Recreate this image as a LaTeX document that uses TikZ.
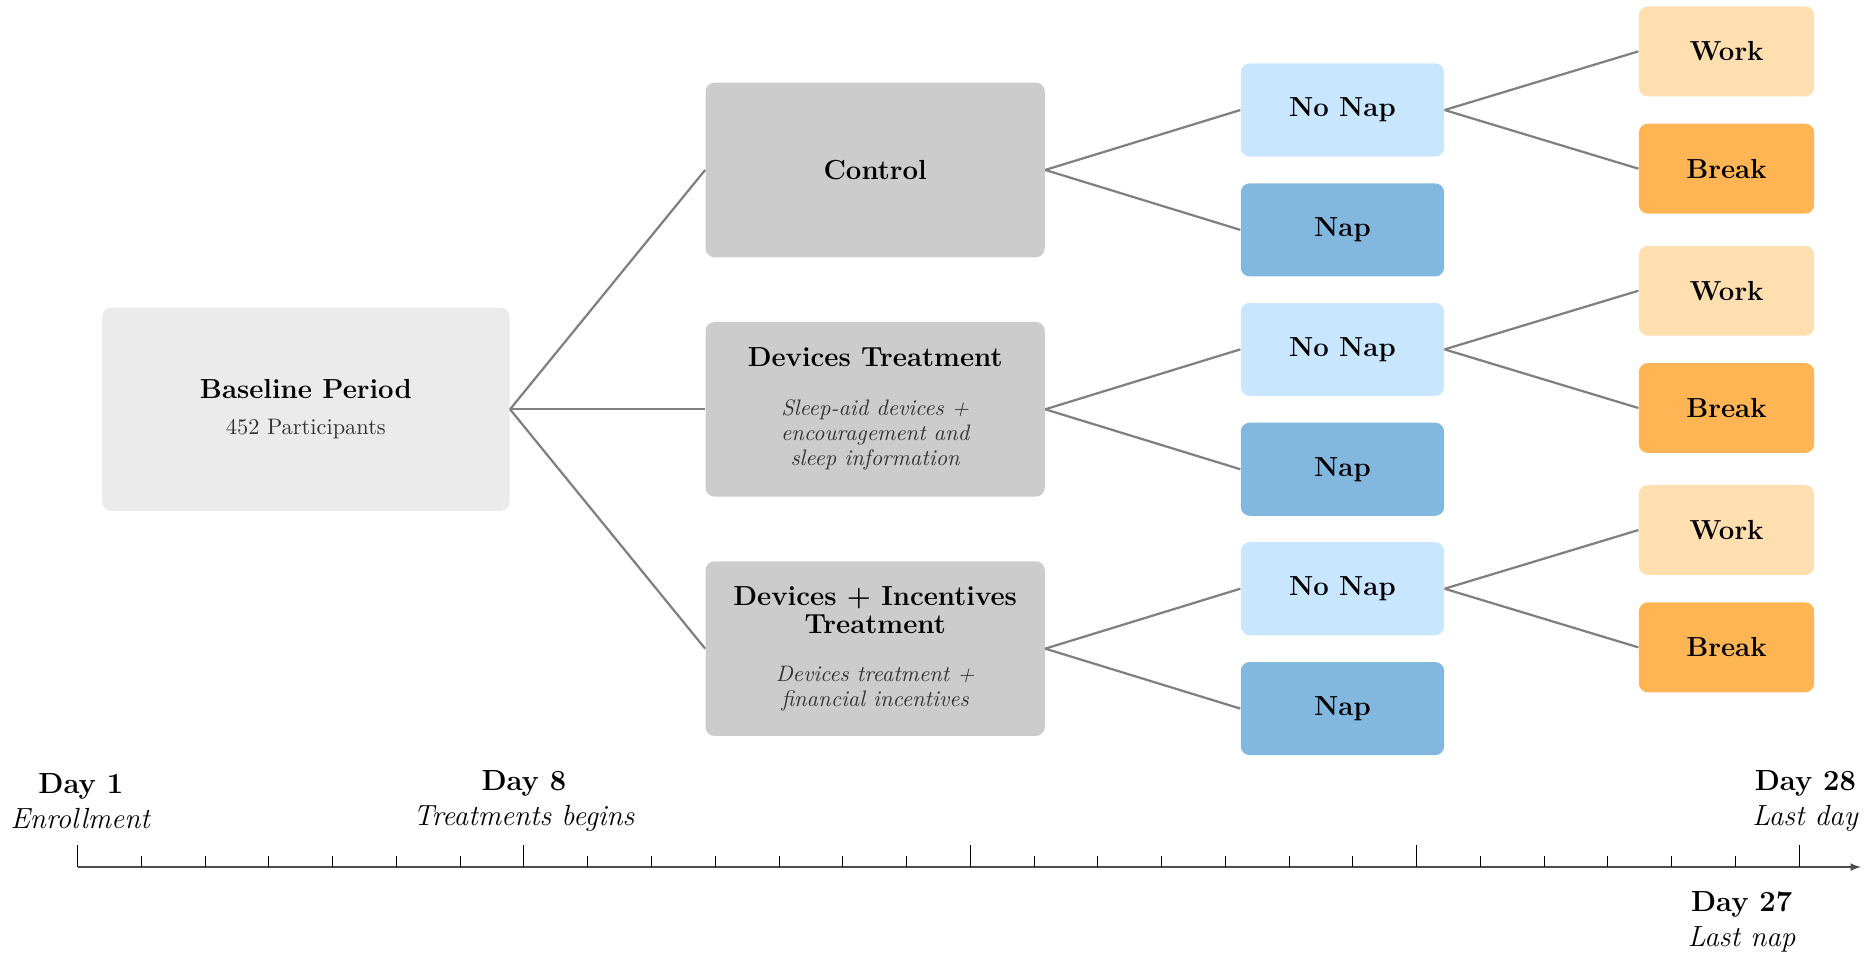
\documentclass[tikz,border=0pt]{standalone}
\usetikzlibrary{%
  positioning,
  calc,
}

\definecolor{periodfill}{HTML}{EBEBEB}
\definecolor{treatfill}{HTML}{CCCCCC}
\definecolor{nonapfill}{HTML}{C9E6FF}
\definecolor{napfill}{HTML}{82B8E0}
\definecolor{workfill}{HTML}{FFDEB0}
\definecolor{breakfill}{HTML}{FFB554}

\newcommand{\detail}[1]{{\normalsize\mdseries\itshape\color{black!80}#1}}

\begin{document}
\begin{tikzpicture}[
    every text node part/.style={align=center},
    node distance=3.06cm,
    box/.style={
      % The shape:
      rectangle,
      rounded corners=4pt,
      inner sep=0pt,
      % The text:
      font=\fontsize{12.3}{14.8}\selectfont\bfseries,
    },
    period/.style={box, fill=periodfill, minimum width=6.39cm, minimum height=3.19cm},
    treatment/.style={box, fill=treatfill, minimum width=5.32cm, minimum height=2.74cm},
    nonap/.style={box, fill=nonapfill, minimum width=3.19cm, minimum height=1.46cm},
    nap/.style={box, fill=napfill, minimum width=3.19cm, minimum height=1.46cm},
    workbox/.style={box, fill=workfill, minimum width=2.75cm, minimum height=1.41cm},
    breakbox/.style={box, fill=breakfill, minimum width=2.75cm, minimum height=1.41cm},
    branch/.style={line width=1pt, color=black!50},
    daylabel/.style={font=\fontsize{13}{15.6}\selectfont},
  ]

    \useasboundingbox (-1.218,-1.368) rectangle (28.16,13.60);

    \node[period] (baseline) at (3.58,7.18)
      {Baseline Period\\[1.5pt]{\normalsize\mdseries\color{black!80}452 Participants}};
    \node[treatment] (devices) [right=of baseline]
      {Devices Treatment\\[7pt]\detail{Sleep-aid devices +}\\[-3.6pt]
       \detail{encouragement and}\\[-3.6pt]\detail{sleep information}};
    \node[treatment] (control) [above=1cm of devices] {Control};
    \node[treatment] (incentives) [below=1cm of devices]
      {Devices + Incentives\\[-2.3pt]Treatment\\[6.5pt]\detail{Devices treatment +}\\[-3.6pt]
       \detail{financial incentives}};

    % the same two levels of branches after each treatment
    \foreach \t in {control, devices, incentives} {
      \node[nonap] (\t-nonap) [right=of \t, yshift=0.94cm] {No Nap};
      \node[nap] (\t-nap) [right=of \t, yshift=-0.94cm] {Nap};
      \node[workbox] (\t-work) [right=3.04cm of \t-nonap, yshift=0.92cm] {Work};
      \node[breakbox] (\t-break) [right=3.04cm of \t-nonap, yshift=-0.92cm] {Break};

      \draw[branch] (baseline.east) -- (\t.west);
      \draw[branch] (\t.east) -- (\t-nonap.west);
      \draw[branch] (\t.east) -- (\t-nap.west);
      \draw[branch] (\t-nonap.east) -- (\t-work.west);
      \draw[branch] (\t-nonap.east) -- (\t-break.west);
    }

    % timeline
    \coordinate (day1) at (0,0);
    \coordinate (axisend) at (27.97,0);
    \draw[-latex, semithick, color=black!70] (day1) -- (axisend);
    \foreach \d in {1,...,26}
      \draw[thin] (\d,0) -- (\d,0.17);
    \foreach \d in {0,7,14,21,27}
      \draw[thin] (\d,0) -- (\d,0.34);

    \node[daylabel] (enrollment) at (0.05,1.04) {\textbf{Day 1}\\\textit{Enrollment}};
    \node[daylabel] (begins) at (7,1.04) {\textbf{Day 8}\\\textit{Treatments begins}};
    \node[daylabel, align=right] (lastday) at (27.1,1.04) {\textbf{Day 28}\\\textit{Last day}};
    \node[daylabel, align=right] (lastnap) at (26.1,-0.86) {\textbf{Day 27}\\\textit{Last nap}};
  \end{tikzpicture}
\end{document}
